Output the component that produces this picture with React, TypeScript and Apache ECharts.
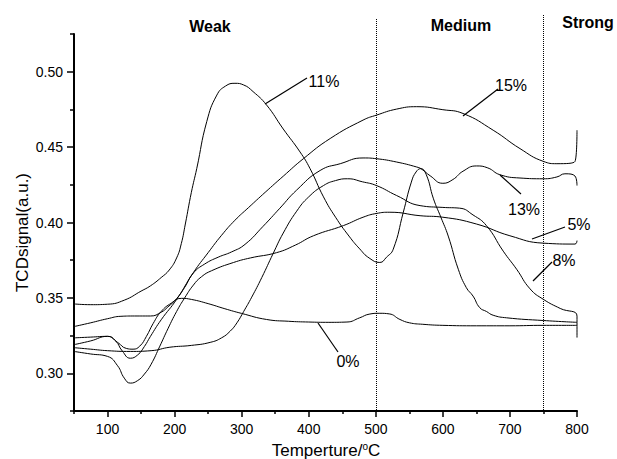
import React, { useEffect, useRef } from "react";
import * as echarts from "echarts";

// ---- axis ticks / labels ----
const xMajorTicks = [100, 200, 300, 400, 500, 600, 700, 800];
const xMinorTicks = [50, 150, 250, 350, 450, 550, 650, 750];
const yMajorTicks = [0.3, 0.35, 0.4, 0.45, 0.5];
const yMinorTicks = [0.275, 0.325, 0.375, 0.425, 0.475, 0.525];
const regionBounds = [500, 750];

// ---- series (temperature °C, TCD signal a.u.) ----
const s0: [number, number][] = [
  [50, 0.3235], [75, 0.324], [100, 0.3245], [115, 0.3205], [128, 0.3165], [138, 0.316],
  [148, 0.318], [158, 0.3245], [168, 0.333], [180, 0.341], [195, 0.3465], [210, 0.3497],
  [225, 0.349], [250, 0.3462], [275, 0.3428], [300, 0.3397], [337, 0.3357], [370, 0.3345],
  [400, 0.334], [430, 0.3338], [457, 0.334], [476, 0.3368], [490, 0.3392], [505, 0.3398],
  [520, 0.3394], [536, 0.3357], [550, 0.3335], [570, 0.3325], [600, 0.3318], [650, 0.3315],
  [700, 0.3315], [750, 0.3318], [800, 0.3318],
];
const s5: [number, number][] = [
  [50, 0.3145], [75, 0.3128], [100, 0.3112], [115, 0.305], [125, 0.2968], [134, 0.2935],
  [145, 0.2952], [155, 0.2995], [165, 0.306], [178, 0.318], [190, 0.3295], [203, 0.341],
  [215, 0.35], [228, 0.3585], [240, 0.364], [255, 0.368], [288, 0.3735], [313, 0.3765],
  [352, 0.38], [380, 0.385], [407, 0.3912], [452, 0.398], [481, 0.4035], [501, 0.406],
  [521, 0.4068], [566, 0.4045], [600, 0.4035], [650, 0.399], [700, 0.3912], [750, 0.3863],
  [797, 0.3857], [800, 0.388],
];
const s8: [number, number][] = [
  [50, 0.317], [75, 0.316], [100, 0.315], [134, 0.3145], [165, 0.315], [193, 0.3173],
  [225, 0.3185], [253, 0.3205], [270, 0.3235], [283, 0.328], [293, 0.3335], [303, 0.341],
  [315, 0.3505], [330, 0.3635], [347, 0.3795], [362, 0.393], [382, 0.4075], [400, 0.417],
  [422, 0.4245], [440, 0.4278], [458, 0.429], [480, 0.427], [501, 0.4245], [531, 0.4179],
  [566, 0.4112], [600, 0.41], [625, 0.4095], [645, 0.405], [665, 0.3979], [690, 0.381],
  [710, 0.369], [730, 0.356], [750, 0.349], [775, 0.343], [800, 0.3379], [800, 0.3237],
];
const s11: [number, number][] = [
  [50, 0.346], [75, 0.3455], [100, 0.3458], [125, 0.3485], [150, 0.3545], [164, 0.358],
  [180, 0.3635], [192, 0.3685], [203, 0.3765], [210, 0.386], [216, 0.399], [225, 0.42],
  [233, 0.4357], [248, 0.467], [263, 0.4845], [276, 0.4905], [290, 0.4923], [303, 0.4912],
  [317, 0.4868], [337, 0.478], [362, 0.462], [387, 0.4468], [402, 0.4357], [422, 0.417],
  [440, 0.4035], [460, 0.391], [476, 0.3825], [490, 0.3765], [506, 0.3735], [516, 0.377],
  [526, 0.3823], [541, 0.4068], [553, 0.4268], [560, 0.4335], [567, 0.4357], [575, 0.432],
  [586, 0.4157], [597, 0.4035], [608, 0.391], [623, 0.369], [635, 0.3568], [645, 0.3512],
  [655, 0.3435], [665, 0.341], [675, 0.3385], [695, 0.3368], [750, 0.335], [800, 0.3338],
];
const s13: [number, number][] = [
  [50, 0.331], [75, 0.3335], [100, 0.3362], [120, 0.3378], [140, 0.338], [164, 0.338],
  [180, 0.3405], [190, 0.344], [203, 0.3495], [215, 0.357], [228, 0.3665], [245, 0.3725],
  [265, 0.377], [285, 0.3805], [305, 0.3855], [332, 0.3975], [357, 0.4095], [382, 0.4215],
  [417, 0.4345], [447, 0.439], [481, 0.4428], [501, 0.4423], [531, 0.4401], [561, 0.4368],
  [568, 0.4355], [581, 0.431], [600, 0.426], [615, 0.4285], [630, 0.434], [650, 0.4375],
  [667, 0.4362], [685, 0.4317], [715, 0.4295], [750, 0.429], [770, 0.4302], [782, 0.4323],
  [797, 0.4308], [800, 0.4245],
];
const s15: [number, number][] = [
  [50, 0.319], [75, 0.3215], [100, 0.3245], [112, 0.3215], [122, 0.3148], [134, 0.31],
  [145, 0.3122], [155, 0.3178], [164, 0.3245], [180, 0.3355], [203, 0.349], [228, 0.3668],
  [250, 0.38], [270, 0.3915], [290, 0.4015], [310, 0.4098], [335, 0.42], [362, 0.4307],
  [392, 0.4423], [432, 0.4557], [481, 0.4679], [501, 0.4712], [531, 0.4752], [561, 0.4768],
  [600, 0.4748], [630, 0.4723], [675, 0.4612], [715, 0.449], [750, 0.4405], [770, 0.439],
  [797, 0.4405], [800, 0.4612],
];

const seriesList: { name: string; data: [number, number][] }[] = [
  { name: "0%", data: s0 },
  { name: "5%", data: s5 },
  { name: "8%", data: s8 },
  { name: "11%", data: s11 },
  { name: "13%", data: s13 },
  { name: "15%", data: s15 },
];

// ---- annotation layout (pixels) ----
const annotations = [
  { text: "11%", tx: 324, ty: 81, line: [265, 104, 307, 78] },
  { text: "15%", tx: 511, ty: 85, line: [463, 116, 498, 89] },
  { text: "13%", tx: 524, ty: 209, line: [500, 175, 521, 194] },
  { text: "5%", tx: 579, ty: 224, line: [532, 239, 565, 227] },
  { text: "8%", tx: 564, ty: 260, line: [533, 281, 552, 262] },
  { text: "0%", tx: 348, ty: 361, line: [318, 323, 338, 352] },
];
const regions = [
  { text: "Weak", x: 210, y: 26 },
  { text: "Medium", x: 461, y: 25 },
  { text: "Strong", x: 588, y: 22 },
];

const FONT = "'Liberation Sans', Arial, Helvetica, sans-serif";

export default function App() {
  const ref = useRef<HTMLDivElement>(null);

  useEffect(() => {
    document.body.style.margin = "0";
    const chart = echarts.init(ref.current!, null, { renderer: "svg" });

    const baseAxis = {
      type: "value",
      splitLine: { show: false },
    };

    chart.setOption({
      animation: false,
      backgroundColor: "#fff",
      grid: { left: 74, right: 40, top: 34, bottom: 48, containLabel: false, outerBoundsMode: "none" },
      xAxis: [
        {
          ...baseAxis,
          min: 50,
          max: 800,
          position: "bottom",
          axisLine: { show: true, onZero: false, lineStyle: { color: "#000", width: 2 } },
          axisTick: { show: true, inside: false, length: 6, customValues: xMajorTicks, lineStyle: { color: "#000", width: 1.5 } },
          axisLabel: { show: true, margin: 11, customValues: xMajorTicks, color: "#000", fontSize: 14, fontFamily: FONT },
        },
        {
          ...baseAxis,
          min: 50,
          max: 800,
          position: "bottom",
          axisLine: { show: false, onZero: false },
          axisTick: { show: true, inside: false, length: 3, customValues: xMinorTicks, lineStyle: { color: "#000", width: 1.5 } },
          axisLabel: { show: false },
        },
      ],
      yAxis: [
        {
          ...baseAxis,
          min: 0.275,
          max: 0.525,
          position: "left",
          axisLine: { show: true, onZero: false, lineStyle: { color: "#000", width: 2 } },
          axisTick: { show: true, inside: false, length: 7, customValues: yMajorTicks, lineStyle: { color: "#000", width: 1.5 } },
          axisLabel: {
            show: true,
            margin: 11,
            customValues: yMajorTicks,
            color: "#000",
            fontSize: 14,
            fontFamily: FONT,
            formatter: (v: number) => v.toFixed(2),
          },
        },
        {
          ...baseAxis,
          min: 0.275,
          max: 0.525,
          position: "left",
          axisLine: { show: false, onZero: false },
          axisTick: { show: true, inside: false, length: 4, customValues: yMinorTicks, lineStyle: { color: "#000", width: 1.5 } },
          axisLabel: { show: false },
        },
      ],
      series: seriesList.map((s) => ({
        type: "line",
        name: s.name,
        data: s.data,
        xAxisIndex: 0,
        yAxisIndex: 0,
        smooth: 0.5,
        showSymbol: false,
        symbol: "none",
        silent: true,
        lineStyle: { color: "#000", width: 1 },
      })),
    });

    const yTop = chart.convertToPixel({ yAxisIndex: 0 }, 0.525) as number;
    const yBottom = chart.convertToPixel({ yAxisIndex: 0 }, 0.275) as number;
    const dividerTops = [19, 15];

    const graphics: any[] = [];
    regionBounds.forEach((v, i) => {
      const px = Math.round(chart.convertToPixel({ xAxisIndex: 0 }, v) as number) + 0.5;
      graphics.push({
        type: "line",
        silent: true,
        shape: { x1: px, y1: dividerTops[i], x2: px, y2: yBottom },
        style: { stroke: "#000", lineWidth: 1, lineDash: [1, 1] },
        z: 1,
      });
    });
    regions.forEach((r) => {
      graphics.push({
        type: "text",
        x: r.x,
        y: r.y,
        style: {
          text: r.text,
          fill: "#000",
          font: `bold 16px ${FONT}`,
          align: "center",
          verticalAlign: "middle",
        },
      });
    });
    annotations.forEach((a) => {
      graphics.push({
        type: "line",
        silent: true,
        shape: { x1: a.line[0], y1: a.line[1], x2: a.line[2], y2: a.line[3] },
        style: { stroke: "#000", lineWidth: 1.2 },
      });
      graphics.push({
        type: "text",
        x: a.tx,
        y: a.ty,
        style: {
          text: a.text,
          fill: "#000",
          font: `16px ${FONT}`,
          align: "center",
          verticalAlign: "middle",
        },
      });
    });
    // y-axis name
    graphics.push({
      type: "text",
      x: 22,
      y: (yTop + yBottom) / 2 + 10,
      rotation: Math.PI / 2,
      style: {
        text: "TCDsignal(a.u.)",
        fill: "#000",
        font: `17px ${FONT}`,
        align: "center",
        verticalAlign: "middle",
      },
    });
    // x-axis name
    graphics.push({
      type: "text",
      x: 326,
      y: 450,
      style: {
        text: "Temperture/{sup|o}C",
        fill: "#000",
        font: `17px ${FONT}`,
        fontSize: 17,
        fontFamily: FONT,
        align: "center",
        verticalAlign: "middle",
        rich: {
          sup: { fontSize: 10, fontFamily: FONT, fill: "#000", verticalAlign: "top", lineHeight: 17 },
        },
      },
    });

    chart.setOption({ graphic: graphics });

    return () => chart.dispose();
  }, []);

  return <div ref={ref} style={{ width: 617, height: 459 }} />;
}
